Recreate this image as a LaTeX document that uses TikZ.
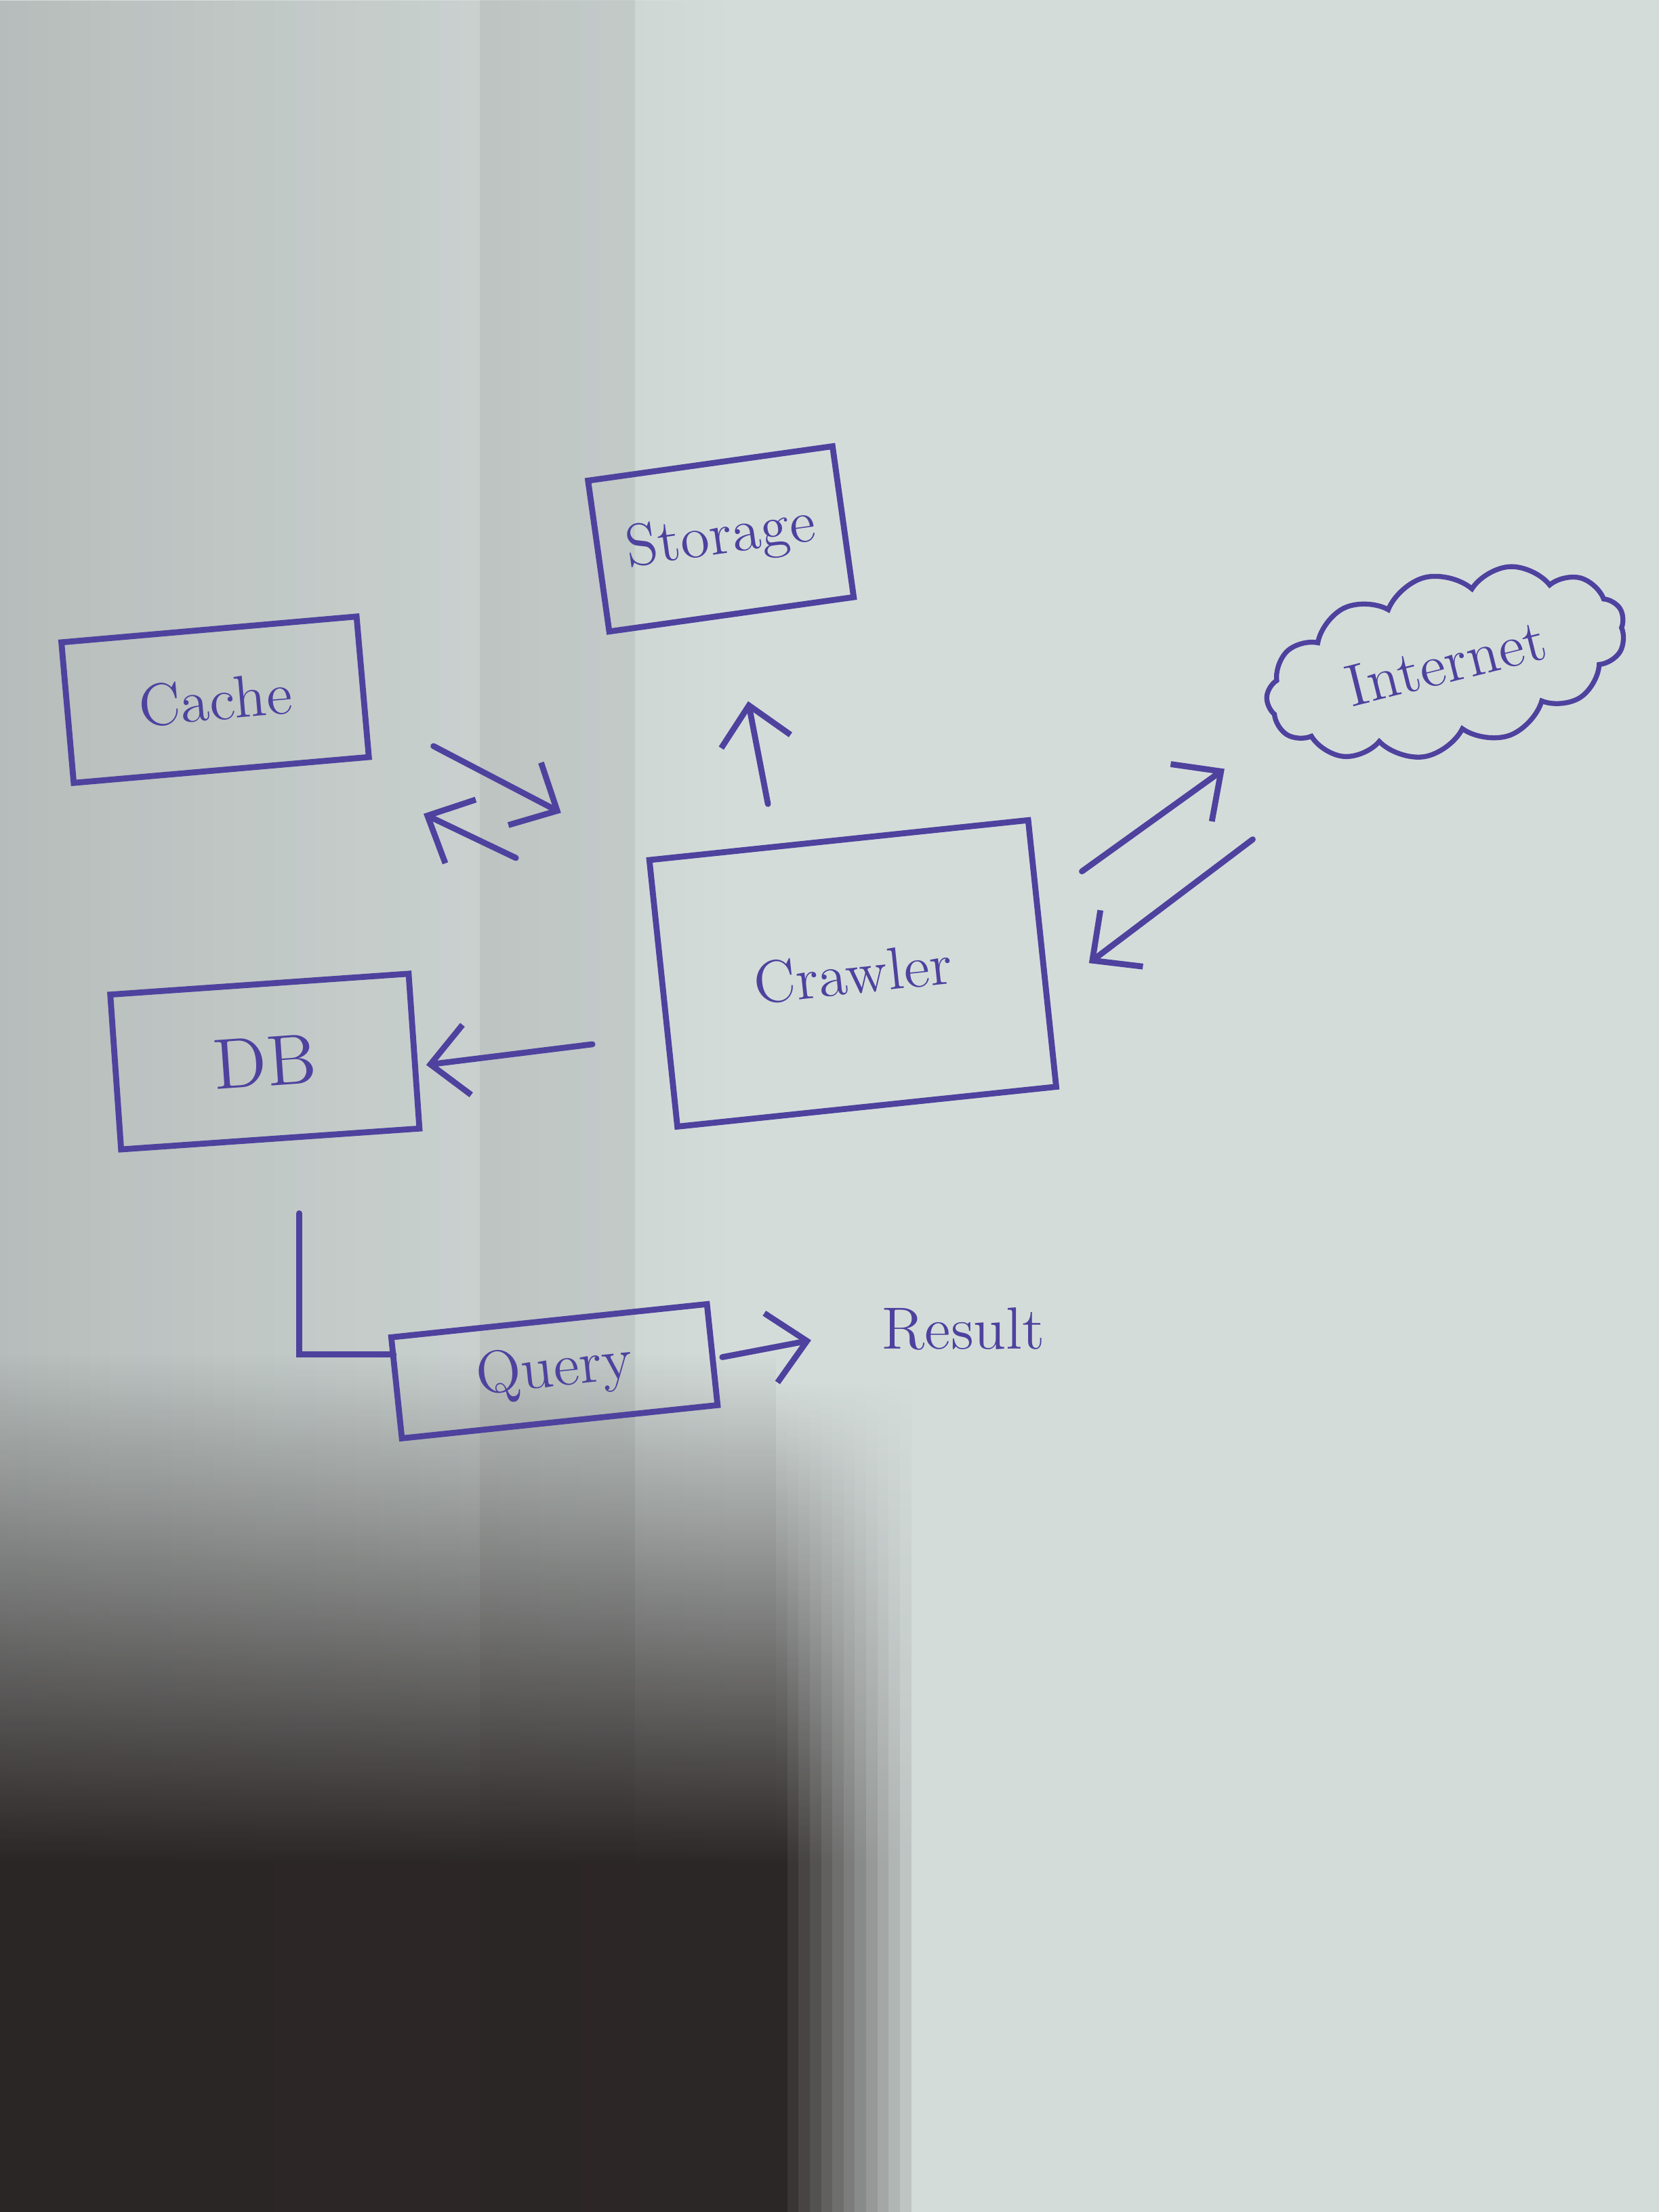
\documentclass[tikz,border=0pt]{standalone}
\usetikzlibrary{positioning,calc,arrows.meta,shapes.symbols,fadings}

\definecolor{ink}{RGB}{78,66,158}
\definecolor{paper}{RGB}{212,220,218}
\definecolor{shadow}{RGB}{36,30,30}

\tikzset{
  box/.style={draw=ink,line width=1.2pt,inner sep=0pt,text=ink,font=\large},
  word/.style={text=ink,font=\large},
  arr/.style={draw=ink,line width=1.2pt,line cap=round,-{Straight Barb[length=2.6mm,width=5mm]}},
  wire/.style={draw=ink,line width=1.2pt,line cap=round}
}

\begin{document}
\begin{tikzpicture}
    \useasboundingbox (0,0) rectangle (11.76,-15.68);

    % Paper and shadow
    \fill[paper] (0,0) rectangle (11.76,-15.68);
    \fill[black,opacity=0.14,path fading=east] (0,0) rectangle (5.2,-15.68);
    \fill[black,opacity=0.06] (3.4,0) rectangle (4.5,-15.68);
    \foreach \i in {0,...,11} {
      \fill[shadow,opacity=0.95-0.075*\i,path fading=north] (5.5+0.08*\i,-9.8) rectangle (5.58+0.08*\i,-13.2);
      \fill[shadow,opacity=0.95-0.075*\i] (5.5+0.08*\i,-13.2) rectangle (5.58+0.08*\i,-15.68);
    }
    \fill[shadow,opacity=0.95,path fading=north] (0,-9.6) rectangle (5.5,-13.2);
    \fill[shadow,opacity=0.95] (0,-13.2) rectangle (5.5,-15.68);

    % Boxes
    \node[box,minimum width=1.75cm,minimum height=1.08cm,rotate=8] (storage) at (5.11,-3.82) {Storage};
    \node[box,minimum width=2.1cm,minimum height=1cm,rotate=5] (cache) at (1.525,-4.96) {Cache};
    \node[box,minimum width=2.7cm,minimum height=1.9cm,rotate=6] (crawler) at (6.045,-6.9) {Crawler};
    \node[box,minimum width=2.12cm,minimum height=1.1cm,rotate=4,font=\Large] (db) at (1.8775,-7.525) {DB};
    \node[box,minimum width=2.25cm,minimum height=0.72cm,rotate=6] (query) at (3.93,-9.72) {Query};

    % Cloud
    \node[cloud,draw=ink,line width=1pt,cloud puffs=13,cloud puff arc=110,aspect=2.3,
          minimum width=2.6cm,minimum height=1.25cm,inner sep=0pt,rotate=14,
          text=ink,font=\large] (internet) at (10.25,-4.7) {Internet};

    % Result text
    \node[word] (result) at (6.83,-9.42) {Result};

    % Arrows
    \draw[arr] ($(crawler.north)+(-0.5,0.235)$) -- ($(storage.south)+(0.115,-0.595)$);
    \draw[arr] ($(cache.south east)+(0.435,0.097)$) -- ($(crawler.north west)+(-0.603,0.316)$);
    \draw[arr] ($(crawler.north west)+(-0.923,-0.004)$) -- ($(cache.south east)+(0.365,-0.383)$);
    \draw[arr] ($(crawler.north east)+(0.362,-0.386)$) -- ($(internet.center)+(-1.57,-0.75)$);
    \draw[arr] ($(internet.center)+(-1.37,-1.25)$) -- ($(crawler.north east)+(0.412,-1.036)$);
    \draw[arr] ($(crawler.west)+(-0.482,-0.359)$) -- ($(db.east)+(0.065,-0.099)$);

    % DB to query, query to result
    \draw[wire] ($(db.south)+(0.204,-0.506)$) |- ($(query.west)+(0,0.238)$);
    \draw[arr] ($(query.east)+(0.05,-0.02)$) -- ($(result.center)+(-1.08,-0.08)$);
\end{tikzpicture}
\end{document}
